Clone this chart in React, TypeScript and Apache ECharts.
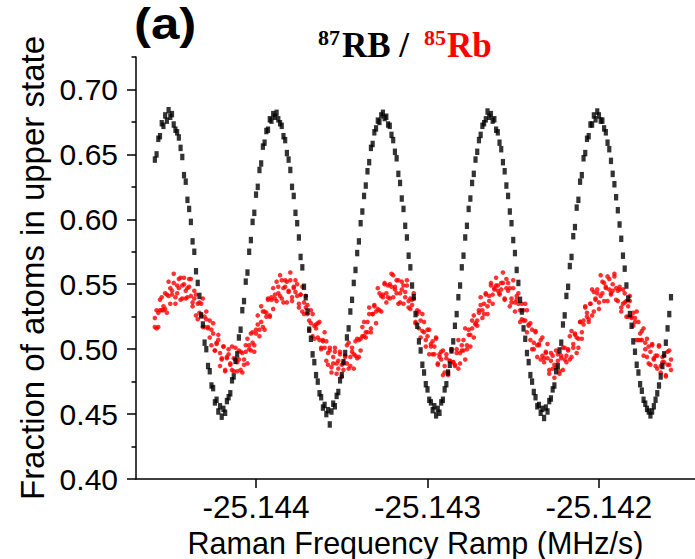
import React, { useEffect, useRef } from "react";
import * as echarts from "echarts";

// Raman frequency ramp (MHz/s), one value per shot
const ramp = [
  -25.14459, -25.14458, -25.14457, -25.14456, -25.14455, -25.14454, -25.14453, -25.14452, -25.14451, -25.1445,
  -25.14449, -25.14448, -25.14447, -25.14446, -25.14445, -25.14444, -25.14443, -25.14442, -25.14441, -25.1444,
  -25.14439, -25.14438, -25.14437, -25.14436, -25.14435, -25.14434, -25.14433, -25.14432, -25.14431, -25.1443,
  -25.14429, -25.14428, -25.14427, -25.14426, -25.14425, -25.14424, -25.14423, -25.14422, -25.14421, -25.1442,
  -25.14419, -25.14418, -25.14417, -25.14416, -25.14415, -25.14414, -25.14413, -25.14412, -25.14411, -25.1441,
  -25.14409, -25.14408, -25.14407, -25.14406, -25.14405, -25.14404, -25.14403, -25.14402, -25.14401, -25.144,
  -25.14399, -25.14398, -25.14397, -25.14396, -25.14395, -25.14394, -25.14393, -25.14392, -25.14391, -25.1439,
  -25.14389, -25.14388, -25.14387, -25.14386, -25.14385, -25.14384, -25.14383, -25.14382, -25.14381, -25.1438,
  -25.14379, -25.14378, -25.14377, -25.14376, -25.14375, -25.14374, -25.14373, -25.14372, -25.14371, -25.1437,
  -25.14369, -25.14368, -25.14367, -25.14366, -25.14365, -25.14364, -25.14363, -25.14362, -25.14361, -25.1436,
  -25.14359, -25.14358, -25.14357, -25.14356, -25.14355, -25.14354, -25.14353, -25.14352, -25.14351, -25.1435,
  -25.14349, -25.14348, -25.14347, -25.14346, -25.14345, -25.14344, -25.14343, -25.14342, -25.14341, -25.1434,
  -25.14339, -25.14338, -25.14337, -25.14336, -25.14335, -25.14334, -25.14333, -25.14332, -25.14331, -25.1433,
  -25.14329, -25.14328, -25.14327, -25.14326, -25.14325, -25.14324, -25.14323, -25.14322, -25.14321, -25.1432,
  -25.14319, -25.14318, -25.14317, -25.14316, -25.14315, -25.14314, -25.14313, -25.14312, -25.14311, -25.1431,
  -25.14309, -25.14308, -25.14307, -25.14306, -25.14305, -25.14304, -25.14303, -25.14302, -25.14301, -25.143,
  -25.14299, -25.14298, -25.14297, -25.14296, -25.14295, -25.14294, -25.14293, -25.14292, -25.14291, -25.1429,
  -25.14289, -25.14288, -25.14287, -25.14286, -25.14285, -25.14284, -25.14283, -25.14282, -25.14281, -25.1428,
  -25.14279, -25.14278, -25.14277, -25.14276, -25.14275, -25.14274, -25.14273, -25.14272, -25.14271, -25.1427,
  -25.14269, -25.14268, -25.14267, -25.14266, -25.14265, -25.14264, -25.14263, -25.14262, -25.14261, -25.1426,
  -25.14259, -25.14258, -25.14257, -25.14256, -25.14255, -25.14254, -25.14253, -25.14252, -25.14251, -25.1425,
  -25.14249, -25.14248, -25.14247, -25.14246, -25.14245, -25.14244, -25.14243, -25.14242, -25.14241, -25.1424,
  -25.14239, -25.14238, -25.14237, -25.14236, -25.14235, -25.14234, -25.14233, -25.14232, -25.14231, -25.1423,
  -25.14229, -25.14228, -25.14227, -25.14226, -25.14225, -25.14224, -25.14223, -25.14222, -25.14221, -25.1422,
  -25.14219, -25.14218, -25.14217, -25.14216, -25.14215, -25.14214, -25.14213, -25.14212, -25.14211, -25.1421,
  -25.14209, -25.14208, -25.14207, -25.14206, -25.14205, -25.14204, -25.14203, -25.14202, -25.14201, -25.142,
  -25.14199, -25.14198, -25.14197, -25.14196, -25.14195, -25.14194, -25.14193, -25.14192, -25.14191, -25.1419,
  -25.14189, -25.14188, -25.14187, -25.14186, -25.14185, -25.14184, -25.14183, -25.14182, -25.14181, -25.1418,
  -25.14179, -25.14178, -25.14177, -25.14176, -25.14175, -25.14174, -25.14173, -25.14172, -25.14171, -25.1417,
  -25.14169, -25.14168, -25.14167, -25.14166, -25.14165, -25.14164, -25.14163, -25.14162, -25.14161, -25.1416,
  -25.14159, -25.14158,
];

// 87Rb fraction in upper state (black)
const rb87 = [
  0.646, 0.65, 0.662, 0.664, 0.674, 0.672, 0.68, 0.676, 0.684, 0.679,
  0.681, 0.673, 0.669, 0.667, 0.663, 0.655, 0.648, 0.634, 0.629, 0.615,
  0.608, 0.598, 0.583, 0.575, 0.56, 0.551, 0.541, 0.526, 0.519, 0.505,
  0.5, 0.487, 0.483, 0.472, 0.47, 0.459, 0.461, 0.452, 0.456, 0.448,
  0.454, 0.451, 0.46, 0.463, 0.466, 0.476, 0.479, 0.491, 0.496, 0.509,
  0.515, 0.53, 0.537, 0.552, 0.559, 0.575, 0.584, 0.598, 0.605, 0.619,
  0.625, 0.638, 0.643, 0.656, 0.659, 0.668, 0.669, 0.677, 0.676, 0.681,
  0.679, 0.682, 0.677, 0.674, 0.672, 0.664, 0.661, 0.651, 0.646, 0.638,
  0.625, 0.618, 0.605, 0.597, 0.586, 0.571, 0.563, 0.548, 0.54, 0.529,
  0.515, 0.508, 0.496, 0.49, 0.48, 0.475, 0.466, 0.463, 0.455, 0.457,
  0.45, 0.453, 0.442, 0.452, 0.458, 0.456, 0.464, 0.467, 0.476, 0.48,
  0.49, 0.497, 0.509, 0.516, 0.529, 0.538, 0.551, 0.561, 0.574, 0.583,
  0.597, 0.606, 0.618, 0.626, 0.637, 0.644, 0.655, 0.658, 0.667, 0.67,
  0.676, 0.675, 0.68, 0.682, 0.678, 0.679, 0.673, 0.672, 0.665, 0.661,
  0.652, 0.647, 0.635, 0.628, 0.616, 0.608, 0.595, 0.586, 0.572, 0.563,
  0.549, 0.54, 0.527, 0.518, 0.506, 0.499, 0.488, 0.482, 0.473, 0.469,
  0.461, 0.459, 0.453, 0.456, 0.449, 0.454, 0.451, 0.459, 0.461, 0.469,
  0.473, 0.482, 0.488, 0.499, 0.506, 0.518, 0.527, 0.54, 0.549, 0.563,
  0.572, 0.586, 0.595, 0.608, 0.616, 0.628, 0.635, 0.646, 0.652, 0.661,
  0.665, 0.672, 0.674, 0.677, 0.683, 0.679, 0.681, 0.676, 0.677, 0.669,
  0.667, 0.659, 0.654, 0.644, 0.637, 0.626, 0.618, 0.606, 0.597, 0.584,
  0.574, 0.561, 0.551, 0.538, 0.529, 0.516, 0.508, 0.497, 0.49, 0.48,
  0.475, 0.467, 0.463, 0.456, 0.457, 0.451, 0.454, 0.447, 0.455, 0.452,
  0.46, 0.462, 0.469, 0.472, 0.483, 0.487, 0.499, 0.505, 0.519, 0.526,
  0.541, 0.548, 0.564, 0.571, 0.587, 0.594, 0.609, 0.615, 0.629, 0.634,
  0.647, 0.651, 0.662, 0.664, 0.673, 0.673, 0.68, 0.677, 0.683, 0.68,
  0.676, 0.676, 0.67, 0.667, 0.659, 0.654, 0.645, 0.635, 0.627, 0.617,
  0.607, 0.596, 0.585, 0.572, 0.562, 0.549, 0.539, 0.527, 0.518, 0.506,
  0.498, 0.488, 0.482, 0.473, 0.468, 0.461, 0.458, 0.454, 0.452, 0.449,
  0.452, 0.456, 0.461, 0.466, 0.472, 0.479, 0.487, 0.496, 0.505, 0.516,
  0.527, 0.54,
];

// 85Rb fraction in upper state (red), first pass
const rb85a = [
  0.524, 0.516, 0.528, 0.538, 0.53, 0.53, 0.543, 0.528, 0.541, 0.547,
  0.542, 0.558, 0.54, 0.549, 0.547, 0.555, 0.539, 0.55, 0.539, 0.547,
  0.554, 0.541, 0.536, 0.545, 0.526, 0.535, 0.536, 0.526, 0.539, 0.517,
  0.523, 0.517, 0.522, 0.503, 0.512, 0.499, 0.505, 0.511, 0.497, 0.492,
  0.502, 0.483, 0.493, 0.496, 0.488, 0.502, 0.483, 0.492, 0.49, 0.499,
  0.484, 0.497, 0.488, 0.498, 0.508, 0.5, 0.499, 0.513, 0.498, 0.512,
  0.519, 0.515, 0.533, 0.517, 0.529, 0.528, 0.539, 0.526, 0.54, 0.531,
  0.542, 0.552, 0.543, 0.541, 0.553, 0.536, 0.548, 0.552, 0.545, 0.559,
  0.54, 0.548, 0.544, 0.55, 0.532, 0.542, 0.529, 0.536, 0.541, 0.527,
  0.522, 0.53, 0.51, 0.518, 0.519, 0.509, 0.521, 0.5, 0.506, 0.501,
  0.506, 0.488, 0.499, 0.486, 0.494, 0.501, 0.489, 0.485, 0.496, 0.479,
  0.49, 0.495, 0.489, 0.505, 0.487, 0.498, 0.496, 0.506, 0.493, 0.507,
  0.499, 0.51, 0.521, 0.513, 0.513, 0.527, 0.513, 0.527, 0.533, 0.529,
  0.547, 0.53, 0.541, 0.54, 0.55, 0.536, 0.549, 0.539, 0.548, 0.557,
  0.546, 0.543, 0.553, 0.536, 0.546, 0.549, 0.54, 0.553, 0.532, 0.539,
  0.534, 0.539, 0.52, 0.53, 0.516, 0.522, 0.527, 0.513, 0.507, 0.515,
  0.496, 0.504, 0.506, 0.496, 0.509, 0.489, 0.496, 0.492, 0.499, 0.482,
  0.493, 0.482, 0.491, 0.5, 0.49, 0.488, 0.5, 0.485, 0.497, 0.503,
  0.499, 0.516, 0.5, 0.511, 0.511, 0.522, 0.509, 0.52, 0.522, 0.528,
  0.534, 0.53, 0.527, 0.543, 0.533, 0.541, 0.551, 0.542, 0.546, 0.549,
  0.549, 0.543, 0.546, 0.551, 0.538, 0.554, 0.545, 0.547, 0.536, 0.553,
  0.536, 0.541, 0.535, 0.521, 0.535, 0.522, 0.522, 0.53, 0.519, 0.507,
  0.515, 0.5, 0.514, 0.503, 0.504, 0.492, 0.509, 0.493, 0.498, 0.493,
  0.481, 0.497, 0.485, 0.488, 0.499, 0.491, 0.483, 0.495, 0.484, 0.501,
  0.495, 0.499, 0.492, 0.514, 0.501, 0.511, 0.509, 0.501, 0.521, 0.513,
  0.519, 0.533, 0.528, 0.521, 0.535, 0.526, 0.544, 0.538, 0.543, 0.536,
  0.557, 0.543, 0.551, 0.547, 0.537, 0.554, 0.543, 0.545, 0.556, 0.547,
  0.537, 0.546, 0.532, 0.546, 0.536, 0.537, 0.525, 0.541, 0.524, 0.528,
  0.521, 0.507, 0.521, 0.507, 0.507, 0.516, 0.505, 0.494, 0.502, 0.488,
  0.503, 0.493, 0.495, 0.485, 0.503, 0.487, 0.494, 0.49, 0.48, 0.498,
  0.488, 0.492,
];

// 85Rb fraction in upper state (red), second pass
const rb85b = [
  0.517, 0.53, 0.517, 0.53, 0.54, 0.533, 0.531, 0.542, 0.552, 0.535,
  0.545, 0.551, 0.535, 0.543, 0.554, 0.538, 0.549, 0.555, 0.545, 0.54,
  0.548, 0.554, 0.533, 0.539, 0.542, 0.523, 0.528, 0.535, 0.517, 0.525,
  0.529, 0.516, 0.509, 0.515, 0.52, 0.499, 0.504, 0.507, 0.487, 0.493,
  0.502, 0.484, 0.494, 0.5, 0.489, 0.484, 0.493, 0.501, 0.483, 0.492,
  0.498, 0.482, 0.492, 0.503, 0.489, 0.503, 0.512, 0.505, 0.503, 0.515,
  0.526, 0.51, 0.521, 0.529, 0.515, 0.525, 0.538, 0.525, 0.538, 0.547,
  0.539, 0.537, 0.548, 0.557, 0.539, 0.547, 0.553, 0.536, 0.544, 0.553,
  0.537, 0.547, 0.553, 0.541, 0.535, 0.542, 0.548, 0.527, 0.532, 0.534,
  0.515, 0.52, 0.527, 0.508, 0.516, 0.52, 0.507, 0.501, 0.507, 0.513,
  0.491, 0.497, 0.501, 0.482, 0.489, 0.498, 0.481, 0.491, 0.498, 0.488,
  0.484, 0.494, 0.503, 0.485, 0.494, 0.501, 0.485, 0.495, 0.508, 0.494,
  0.508, 0.517, 0.51, 0.509, 0.521, 0.532, 0.516, 0.527, 0.534, 0.52,
  0.531, 0.543, 0.529, 0.542, 0.551, 0.543, 0.54, 0.55, 0.558, 0.54,
  0.548, 0.553, 0.535, 0.543, 0.552, 0.535, 0.544, 0.549, 0.537, 0.531,
  0.538, 0.543, 0.521, 0.527, 0.529, 0.509, 0.514, 0.521, 0.502, 0.51,
  0.515, 0.502, 0.496, 0.502, 0.508, 0.488, 0.494, 0.498, 0.48, 0.487,
  0.496, 0.48, 0.491, 0.499, 0.49, 0.487, 0.497, 0.507, 0.489, 0.499,
  0.507, 0.492, 0.503, 0.515, 0.502, 0.516, 0.526, 0.519, 0.518, 0.53,
  0.54, 0.524, 0.535, 0.542, 0.527, 0.537, 0.549, 0.535, 0.547, 0.555,
  0.545, 0.542, 0.551, 0.559, 0.539, 0.547, 0.551, 0.533, 0.539, 0.547,
  0.529, 0.538, 0.543, 0.53, 0.523, 0.53, 0.535, 0.513, 0.518, 0.52,
  0.5, 0.505, 0.513, 0.494, 0.503, 0.507, 0.495, 0.49, 0.497, 0.504,
  0.484, 0.491, 0.495, 0.478, 0.486, 0.496, 0.481, 0.493, 0.501, 0.492,
  0.49, 0.5, 0.51, 0.494, 0.504, 0.512, 0.497, 0.508, 0.521, 0.508,
  0.522, 0.532, 0.525, 0.523, 0.535, 0.546, 0.529, 0.539, 0.546, 0.531,
  0.541, 0.552, 0.537, 0.548, 0.556, 0.546, 0.542, 0.55, 0.558, 0.538,
  0.545, 0.548, 0.529, 0.535, 0.543, 0.525, 0.533, 0.537, 0.525, 0.518,
  0.524, 0.529, 0.507, 0.512, 0.514, 0.495, 0.5, 0.508, 0.489, 0.498,
  0.504, 0.492, 0.487, 0.495, 0.502, 0.482, 0.49, 0.495, 0.479, 0.488,
  0.499, 0.484,
];

const xTickValues = [-25.144, -25.143, -25.142];
const yMajorTicks = [0.4, 0.45, 0.5, 0.55, 0.6, 0.65, 0.7];
const yMinorTicks = [0.425, 0.475, 0.525, 0.575, 0.625, 0.675, 0.725];

const SANS = '"Liberation Sans", Arial, Helvetica, sans-serif';
const SERIF = '"Liberation Serif", "Times New Roman", serif';

export default function App() {
  const ref = useRef<HTMLDivElement>(null);

  useEffect(() => {
    if (!ref.current) return;
    const chart = echarts.init(ref.current, null, { renderer: "svg" });

    const red = ramp
      .map((x, i) => [x, rb85a[i]])
      .concat(ramp.map((x, i) => [x, rb85b[i]]));
    const black = ramp.map((x, i) => [x, rb87[i]]);

    const txt = (
      text: string,
      x: number,
      y: number,
      font: string,
      fill: string,
      scaleX = 1
    ) => ({
      type: "text",
      x,
      y,
      scaleX,
      silent: true,
      style: {
        text,
        font,
        fill,
        align: "left",
        verticalAlign: "middle",
        textAlign: "left",
        textVerticalAlign: "middle",
      },
    });

    chart.setOption({
      animation: false,
      backgroundColor: "#fff",
      grid: {
        left: 136,
        right: 0,
        top: 57,
        bottom: 80,
        containLabel: false,
        outerBoundsMode: "none",
      },
      xAxis: {
        type: "value",
        min: -25.1447,
        max: -25.14144,
        name: "Raman Frequency Ramp (MHz/s)",
        nameLocation: "middle",
        nameGap: 41,
        nameTextStyle: { fontFamily: SANS, fontSize: 30.5, color: "#000", lineHeight: 30 },
        axisLine: { show: true, lineStyle: { color: "#000", width: 1.5 } },
        axisTick: {
          show: true,
          customValues: xTickValues,
          length: 9,
          lineStyle: { color: "#000", width: 1.5 },
        },
        axisLabel: {
          customValues: xTickValues,
          formatter: (v: number) => v.toFixed(3),
          fontFamily: SANS,
          fontSize: 31.5,
          color: "#000",
          margin: 12,
        },
        splitLine: { show: false },
      },
      yAxis: [
        {
          type: "value",
          min: 0.4,
          max: 0.725,
          position: "left",
          name: "Fraction of atoms in upper state",
          nameLocation: "middle",
          nameGap: 86,
          nameTextStyle: { fontFamily: SANS, fontSize: 33, color: "#000" },
          axisLine: { show: true, lineStyle: { color: "#000", width: 1.5 } },
          axisTick: {
            show: true,
            customValues: yMajorTicks,
            length: 9,
            lineStyle: { color: "#000", width: 1.5 },
          },
          axisLabel: {
            customValues: yMajorTicks,
            formatter: (v: number) => v.toFixed(2),
            fontFamily: SANS,
            fontSize: 30,
            color: "#000",
            margin: 18,
          },
          splitLine: { show: false },
        },
        {
          type: "value",
          min: 0.4,
          max: 0.725,
          position: "left",
          axisLine: { show: false },
          axisTick: {
            show: true,
            customValues: yMinorTicks,
            length: 4.5,
            lineStyle: { color: "#000", width: 1.5 },
          },
          axisLabel: { show: false },
          splitLine: { show: false },
        },
      ],
      series: [
        {
          type: "scatter",
          name: "85Rb",
          data: red,
          symbol: "circle",
          symbolSize: 4.6,
          itemStyle: { color: "#ff0000" },
          progressive: 0,
          silent: true,
        },
        {
          type: "scatter",
          name: "87Rb",
          data: black,
          symbol: "rect",
          symbolSize: [4.2, 6.5],
          itemStyle: { color: "#000000" },
          progressive: 0,
          silent: true,
        },
      ],
      graphic: [
        txt("(a)", 134, 24, `bold 44px ${SANS}`, "#000", 1.16),
        txt("87", 318, 37.6, `bold 22px ${SERIF}`, "#000"),
        txt("RB /", 342, 45.5, `bold 35px ${SERIF}`, "#000"),
        txt("85", 424, 37.6, `bold 22px ${SERIF}`, "#ff0000"),
        txt("Rb", 447, 45.5, `bold 35px ${SERIF}`, "#ff0000"),
      ],
    });

    return () => chart.dispose();
  }, []);

  return (
    <div
      ref={ref}
      style={{ position: "absolute", left: 0, top: 0, width: 695, height: 559, background: "#fff" }}
    />
  );
}
